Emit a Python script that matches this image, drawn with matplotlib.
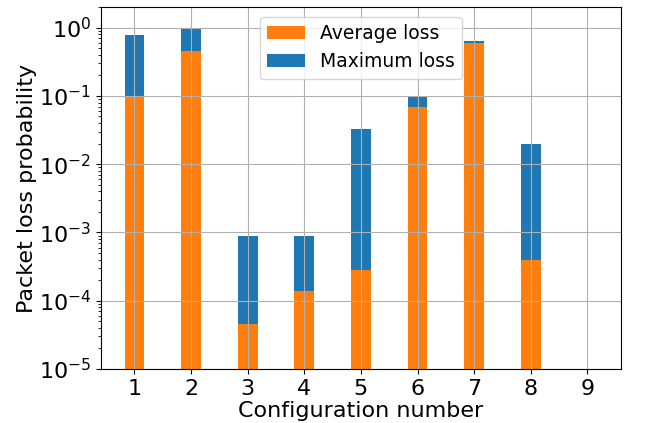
import matplotlib
matplotlib.use("Agg")
import matplotlib.pyplot as plt
import numpy as np

configs = [1, 2, 3, 4, 5, 6, 7, 8, 9]
avg_loss = [0.10, 0.456, 4.6e-5, 1.4e-4, 2.8e-4, 0.069, 0.60, 4.0e-4, 0]
max_loss = [0.78, 1.0, 8.9e-4, 8.9e-4, 0.033, 0.098, 0.64, 0.0198, 0]

fig = plt.figure(figsize=(6.69, 4.23), dpi=100)
ax = fig.add_axes([0.151, 0.128, 0.777, 0.855])
ax.bar(configs, max_loss, width=0.35, color="#1f77b4", label="Maximum loss")
ax.bar(configs, avg_loss, width=0.35, color="#ff7f0e", label="Average loss")
ax.set_yscale("log")
ax.set_ylim(1e-5, 2.0)
ax.set_xlim(0.41, 9.59)
ax.set_xticks(configs)
ax.grid(True, color="#b0b0b0", linewidth=0.8)
ax.tick_params(labelsize=16)
ax.set_xlabel("Configuration number", fontsize=16, labelpad=2)
ax.set_ylabel("Packet loss probability", fontsize=16, labelpad=1)
h, l = ax.get_legend_handles_labels()
ax.legend(h[::-1], l[::-1], loc="upper center", fontsize=13.5)
fig.savefig("out.png", dpi=100)
